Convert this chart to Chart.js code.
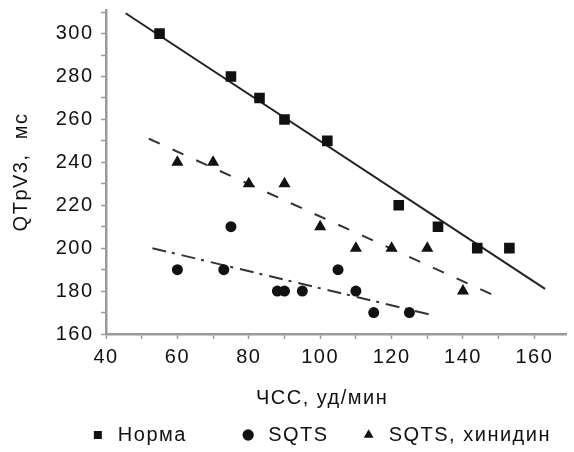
<!DOCTYPE html>
<html lang="ru">
<head>
<meta charset="UTF-8">
<title>QTpV3 / ЧСС</title>
<script src="https://cdn.jsdelivr.net/npm/chart.js"></script>
<style>
    body { margin: 0; padding: 0; background: #fff; }
    canvas { display: block; }
</style>
</head>
<body>
<canvas id="qtChart" width="574" height="452"></canvas>
<script>
// Норма (квадраты)
const normaX = [55, 75, 83, 90, 102, 122, 133, 144, 153];
const normaY = [300, 280, 270, 260, 250, 220, 210, 200, 200];
// SQTS (круги)
const sqtsX = [60, 73, 75, 88, 90, 95, 105, 110, 115, 125];
const sqtsY = [190, 190, 210, 180, 180, 180, 190, 180, 170, 170];
// SQTS, хинидин (треугольники)
const quinX = [60, 70, 80, 90, 100, 110, 120, 130, 140];
const quinY = [240, 240, 230, 230, 210, 200, 200, 200, 180];

// линии тренда (концы отрезков)
const normaFitX = [45.5, 163];
const normaFitY = [309.5, 181];
const quinFitX = [52, 148];
const quinFitY = [251, 178.5];
const sqtsFitX = [53, 131];
const sqtsFitY = [200, 169];

const xTicks = [40, 50, 60, 70, 80, 90, 100, 110, 120, 130, 140, 150, 160];
const yTicks = [160, 170, 180, 190, 200, 210, 220, 230, 240, 250, 260, 270, 280, 290, 300, 310];

const labels = ['Норма', 'SQTS', 'SQTS, хинидин'];

function pts(xs, ys) {
    return xs.map((x, i) => ({ x: x, y: ys[i] }));
}

const FONT = 'Liberation Sans, Arial, sans-serif';
const axisGray = '#9a9a9a';
const legendSpaces = [4, 1, 0]; // промежутки между элементами легенды

// шрифт на оригинале шире, немного разрядка
const spacingPlugin = {
    id: 'spacing',
    beforeUpdate: chart => { chart.ctx.letterSpacing = '1.5px'; },
    beforeDraw: chart => { chart.ctx.letterSpacing = '1.5px'; }
};

const ctx = document.getElementById('qtChart').getContext('2d');
const chart = new Chart(ctx, {
    type: 'scatter',
    plugins: [spacingPlugin],
    data: {
        datasets: [
            {
                label: labels[0],
                data: pts(normaX, normaY),
                pointStyle: 'rect',
                pointRadius: 7.5,
                backgroundColor: '#111',
                borderColor: '#111',
                borderWidth: 0
            },
            {
                label: labels[1],
                data: pts(sqtsX, sqtsY),
                pointStyle: 'circle',
                pointRadius: 5.5,
                backgroundColor: '#111',
                borderColor: '#111',
                borderWidth: 0
            },
            {
                label: labels[2],
                data: pts(quinX, quinY),
                pointStyle: 'triangle',
                pointRadius: 7,
                backgroundColor: '#111',
                borderColor: '#111',
                borderWidth: 0
            },
            {
                label: 'fit1',
                data: pts(normaFitX, normaFitY),
                showLine: true,
                pointRadius: 0,
                borderColor: '#222',
                borderWidth: 2
            },
            {
                label: 'fit3',
                data: pts(quinFitX, quinFitY),
                showLine: true,
                pointRadius: 0,
                borderColor: '#333',
                borderWidth: 2,
                borderDash: [12, 14]
            },
            {
                label: 'fit2',
                data: pts(sqtsFitX, sqtsFitY),
                showLine: true,
                pointRadius: 0,
                borderColor: '#333',
                borderWidth: 2,
                borderDash: [14, 6, 3, 7]
            }
        ]
    },
    options: {
        responsive: false,
        animation: false,
        layout: { padding: { top: 0, right: 0, left: 0, bottom: -3 } },
        plugins: {
            tooltip: { enabled: false },
            legend: {
                position: 'bottom',
                align: 'end',
                labels: {
                    usePointStyle: true,
                    boxWidth: 20,
                    boxHeight: 8,
                    padding: 23,
                    color: '#111',
                    font: { family: FONT, size: 20 },
                    generateLabels: function(chart) {
                        const items = Chart.defaults.plugins.legend.labels.generateLabels(chart);
                        return items.filter(it => labels.includes(it.text)).map((it, i) => {
                            it.text = it.text + ' '.repeat(legendSpaces[i]);
                            return it;
                        });
                    }
                }
            }
        },
        scales: {
            x: {
                type: 'linear',
                min: 40,
                max: 169,
                afterBuildTicks: axis => { axis.ticks = xTicks.map(v => ({ value: v })); },
                afterFit: scale => { scale.height = 68; scale.paddingRight = 0; },
                border: { color: axisGray, width: 2.5 },
                grid: {
                    drawOnChartArea: false,
                    tickLength: 5,
                    tickColor: axisGray,
                    tickWidth: 1.5
                },
                title: {
                    display: true,
                    text: 'ЧСС, уд/мин    ',
                    color: '#111',
                    font: { family: FONT, size: 20 },
                    padding: { top: 0, bottom: -8 }
                },
                ticks: {
                    padding: 6,
                    color: '#111',
                    font: { family: FONT, size: 20 },
                    maxRotation: 0,
                    autoSkip: false,
                    callback: v => (v % 20 === 0 ? v : '')
                }
            },
            y: {
                type: 'linear',
                min: 160,
                max: 311,
                afterBuildTicks: axis => { axis.ticks = yTicks.map(v => ({ value: v })); },
                afterFit: scale => { scale.width = 106; scale.paddingTop = 10; },
                border: { color: axisGray, width: 2.5 },
                grid: {
                    drawOnChartArea: false,
                    tickLength: 5,
                    tickColor: axisGray,
                    tickWidth: 1.5
                },
                title: {
                    display: true,
                    text: 'QTpV3,  мс',
                    color: '#111',
                    font: { family: FONT, size: 20 },
                    padding: { top: 9, bottom: 0 }
                },
                ticks: {
                    padding: 7.5,
                    color: '#111',
                    font: { family: FONT, size: 20 },
                    autoSkip: false,
                    callback: v => (v % 20 === 0 ? v : '')
                }
            }
        }
    }
});
</script>
</body>
</html>
